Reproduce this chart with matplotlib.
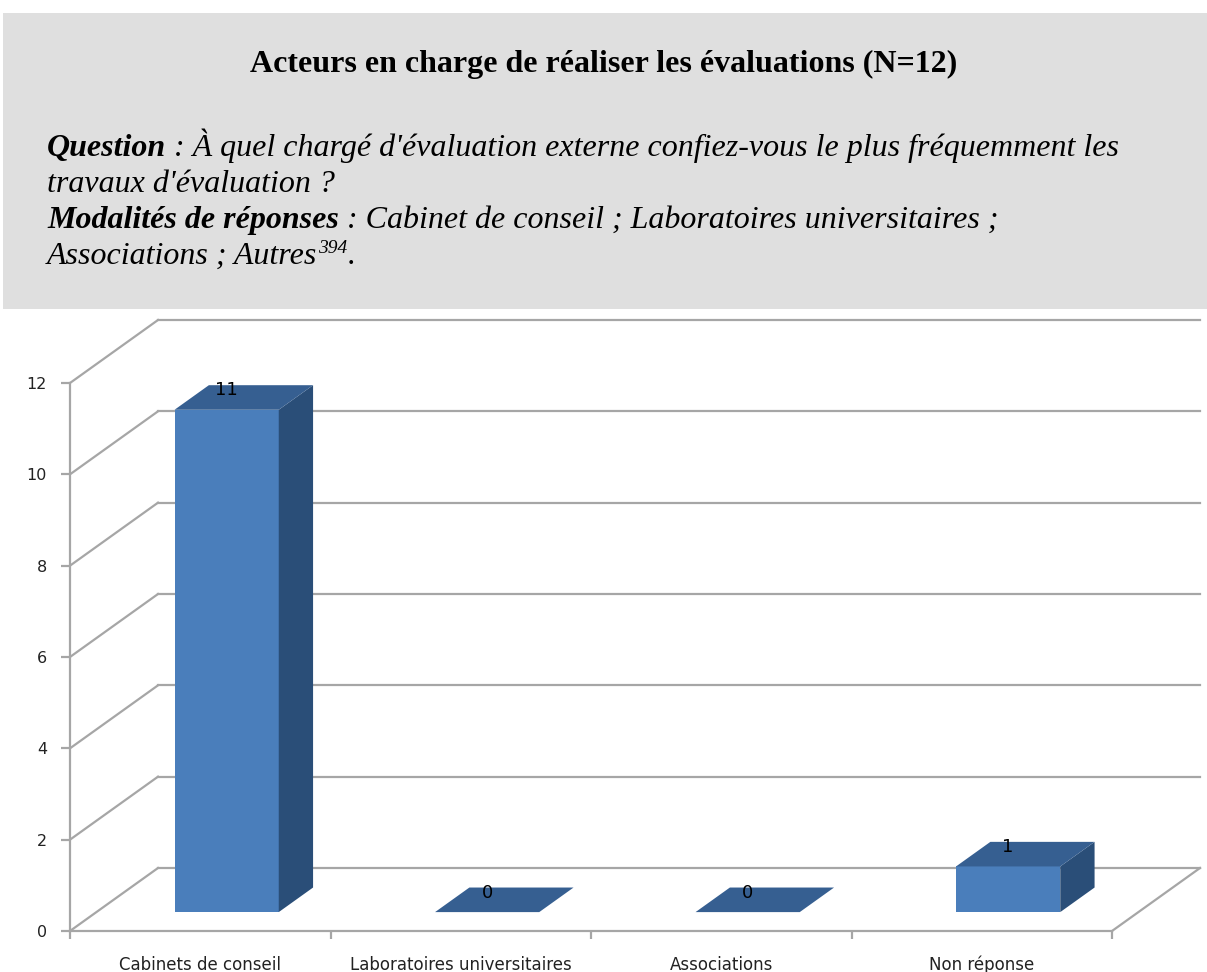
import matplotlib.pyplot as plt
from matplotlib.patches import Polygon, Rectangle

categories = ["Cabinets de conseil", "Laboratoires universitaires", "Associations", "Non réponse"]
values = [11, 0, 0, 1]
yticks = [0, 2, 4, 6, 8, 10, 12]

title = "Acteurs en charge de réaliser les évaluations (N=12)"

W, H = 1207, 972
fig = plt.figure(figsize=(W / 100, H / 100), dpi=100)
fig.patch.set_facecolor("white")

# grey header box
fig.patches.append(Rectangle((3 / W, 1 - 309 / H), 1 - 3 / W, 296 / H,
                             transform=fig.transFigure, facecolor="#DFDFDF",
                             edgecolor="none", zorder=0))

serif = "Liberation Serif"
fig.text(0.5, 1 - 72 / H, title, ha="center", va="baseline", family=serif,
         weight="bold", fontsize=23)

renderer = fig.canvas.get_renderer()


def run_line(pieces, x_px, base_px):
    x = x_px
    for txt, kw in pieces:
        t = fig.text(x / W, 1 - base_px / H, txt, va="baseline", family=serif,
                     style="italic", **kw)
        bb = t.get_window_extent(renderer)
        x += bb.width
    return x


fs = 23
run_line([("Question", dict(weight="bold", fontsize=fs)),
          (" : À quel chargé d'évaluation externe confiez-vous le plus fréquemment les", dict(fontsize=fs))],
         47, 156)
run_line([("travaux d'évaluation ?", dict(fontsize=fs))], 47, 192)
run_line([("Modalités de réponses", dict(weight="bold", fontsize=fs)),
          (" : Cabinet de conseil ; Laboratoires universitaires ;", dict(fontsize=fs))],
         47, 228)
x_end = run_line([("Associations ; Autres", dict(fontsize=fs))], 47, 264)
x_end = run_line([("394", dict(fontsize=14))], x_end + 1, 253)
run_line([(".", dict(fontsize=fs))], x_end, 264)

# chart axes: front plane
x0, x1, y0, y1 = 70, 1112, 931, 383
ax = fig.add_axes([x0 / W, 1 - y0 / H, (x1 - x0) / W, (y0 - y1) / H])
ax.set_xlim(0, len(categories))
ax.set_ylim(0, 12)
ax.set_facecolor("none")

unit_x = (x1 - x0) / len(categories)
unit_y = (y0 - y1) / 12
DX = 88 / unit_x   # depth offset of back wall, in data units
DY = 63 / unit_y

grid = "#A6A6A6"
lw = 1.6
n = len(categories)
for v in yticks:
    ax.plot([0, DX], [v, v + DY], color=grid, lw=lw, clip_on=False, zorder=1)
    ax.plot([DX, n + DX], [v + DY, v + DY], color=grid, lw=lw, clip_on=False, zorder=1)
# floor right edge
ax.plot([n, n + DX], [0, DY], color=grid, lw=lw, clip_on=False, zorder=1)

for s in ["top", "right"]:
    ax.spines[s].set_visible(False)
for s in ["left", "bottom"]:
    ax.spines[s].set_color(grid)
    ax.spines[s].set_linewidth(lw)

sans = "DejaVu Sans"
ax.set_yticks(yticks)
ax.set_yticklabels([str(v) for v in yticks], family=sans, fontsize=11.5, color="#222222")
ax.tick_params(axis="y", length=6.5, width=lw, color=grid, pad=10)
ax.set_xticks(range(n + 1))
ax.set_xticklabels([])
ax.tick_params(axis="x", which="major", length=6, width=lw, color=grid)
ax.set_xticks([i + 0.5 for i in range(n)], minor=True)
ax.set_xticklabels(categories, minor=True, family=sans, fontsize=12, color="#222222")
ax.tick_params(axis="x", which="minor", length=0, pad=28)
for lbl in ax.get_xticklabels(minor=True):
    lbl.set_va("baseline")

# 3D bars
front_c = "#4A7EBB"
top_c = "#365F91"
side_c = "#2A4E78"
d0, d1 = 0.3, 0.69
bw = 0.4
for i, v in enumerate(values):
    cx = i + 0.5 + d0 * DX
    bx0, bx1 = cx - bw / 2, cx + bw / 2
    by0 = d0 * DY
    by1 = by0 + v
    ox, oy = (d1 - d0) * DX, (d1 - d0) * DY
    if v > 0:
        ax.add_patch(Polygon([(bx0, by0), (bx1, by0), (bx1, by1), (bx0, by1)],
                             closed=True, facecolor=front_c, edgecolor="none",
                             clip_on=False, zorder=3))
        ax.add_patch(Polygon([(bx1, by0), (bx1 + ox, by0 + oy), (bx1 + ox, by1 + oy), (bx1, by1)],
                             closed=True, facecolor=side_c, edgecolor="none",
                             clip_on=False, zorder=3))
    ax.add_patch(Polygon([(bx0, by1), (bx1, by1), (bx1 + ox, by1 + oy), (bx0 + ox, by1 + oy)],
                         closed=True, facecolor=top_c, edgecolor="none",
                         clip_on=False, zorder=3))
    ax.text(cx, by1 + oy - 5 / unit_y, str(v), ha="center", va="center",
            family=sans, fontsize=13, color="black", zorder=4)

fig.savefig("out.png", dpi=100)
